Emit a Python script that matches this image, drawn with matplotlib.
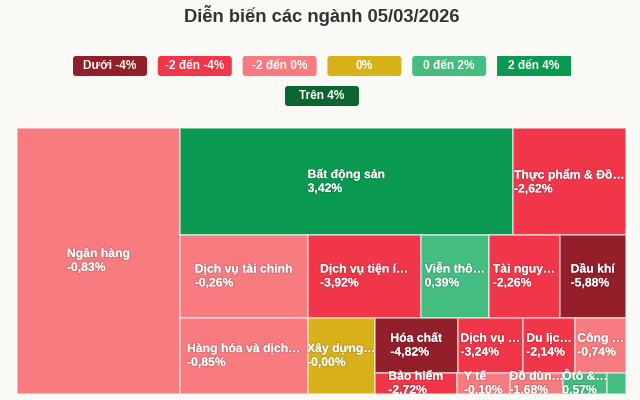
import matplotlib
matplotlib.use("Agg")
import matplotlib.pyplot as plt
from matplotlib.patches import Rectangle, FancyBboxPatch
import matplotlib.patheffects as pe

plt.rcParams['font.family'] = ['Liberation Sans', 'DejaVu Sans']

# --- du lieu ---
nganh = ["Ngân hàng", "Bất động sản", "Thực phẩm & Đồ…", "Dịch vụ tài chính",
         "Hàng hóa và dịch…", "Dịch vụ tiện í…", "Viễn thô…", "Tài nguy…",
         "Dầu khí", "Xây dựng…", "Hóa chất", "Dịch vụ …", "Du lịc…",
         "Công …", "Bảo hiểm", "Y tế", "Đồ dùn…", "Ôtô &…", ""]
thay_doi = [-0.83, 3.42, -2.62, -0.26, -0.85, -3.92, 0.39, -2.26, -5.88, -0.00,
            -4.82, -3.24, -2.14, -0.74, -2.72, -0.10, -1.68, 0.57, 0.50]
von_hoa = [434, 356, 121, 106, 97, 94, 56, 59, 55, 51,
           46, 36, 29, 28, 17, 11, 11, 9, 4]

nhom_mau = ["Dưới -4%", "-2 đến -4%", "-2 đến 0%", "0%", "0 đến 2%", "2 đến 4%", "Trên 4%"]
mau = ["#931f2a", "#f23649", "#f77b7f", "#d8b11a", "#44bd80", "#0a9950", "#0c6632"]

# cach chia o (h = chia ngang, v = chia doc)
cay = ('h', [0, ('v', [('h', [1, 2]),
                       ('h', [('v', [3, 4]),
                              ('v', [('h', [5, 6, 7, 8]),
                                     ('h', [9, ('v', [('h', [10, 11, 12, 13]),
                                                      ('h', [14, 15, 16, 17, 18])])])])])])])


def tong(node):
    if isinstance(node, int):
        return von_hoa[node]
    return sum(tong(c) for c in node[1])


def chia(node, x, y, w, h, out):
    if isinstance(node, int):
        out[node] = (x, y, w, h)
        return
    huong, con = node
    t = tong(node)
    for c in con:
        f = tong(c) / t
        if huong == 'h':
            chia(c, x, y, w * f, h, out)
            x += w * f
        else:
            chia(c, x, y, w, h * f, out)
            y += h * f


def lay_mau(v):
    v = round(v, 2)
    if v < -4: return mau[0]
    if v < -2: return mau[1]
    if v < 0: return mau[2]
    if v == 0: return mau[3]
    if v <= 2: return mau[4]
    if v <= 4: return mau[5]
    return mau[6]


W, H = 609, 266
nen = "#fbfaf7"
fig = plt.figure(figsize=(6.4, 4), dpi=100)
fig.patch.set_facecolor(nen)

# lop phu toan hinh, don vi = pixel
bg = fig.add_axes([0, 0, 1, 1])
bg.set_xlim(0, 640)
bg.set_ylim(400, 0)
bg.axis('off')

bg.text(322, 16, "Diễn biến các ngành 05/03/2026", ha='center', va='center',
        fontsize=13.2, fontweight='bold', color='#333333')

# legend
bw, bh, buoc = 74, 20, 84.8
for i, lbl in enumerate(nhom_mau):
    hang = i // 6
    so = 6 if hang == 0 else len(nhom_mau) - 6
    x0 = 322 - (so * buoc - (buoc - bw)) / 2 + (i % 6) * buoc
    y0 = 56 + hang * 30
    kieu = "square,pad=0" if lbl == "2 đến 4%" else "round,pad=0,rounding_size=3"
    bg.add_patch(FancyBboxPatch((x0, y0), bw, bh, boxstyle=kieu,
                                facecolor=mau[i], edgecolor='none'))
    bg.text(x0 + bw / 2, y0 + bh / 2, lbl, ha='center', va='center',
            color='white', fontsize=8.6, fontweight='bold')

ax = fig.add_axes([17 / 640, 6 / 400, W / 640, H / 400])
ax.set_xlim(0, W)
ax.set_ylim(H, 0)
ax.axis('off')

o = {}
chia(cay, 0, 0, W, H, o)
bong = [pe.withStroke(linewidth=1.5, foreground=(0, 0, 0, 0.12))]
for i, (x, y, w, h) in o.items():
    ax.add_patch(Rectangle((x, y), w, h, facecolor=lay_mau(thay_doi[i]),
                           edgecolor=(1, 1, 1, 0.55), linewidth=1.2))
    if nganh[i]:
        pct = f"{thay_doi[i]:.2f}%".replace('.', ',')
        ax.text(x + w / 2, y + h / 2, nganh[i] + "\n" + pct, ha='center', va='center',
                multialignment='left', color='white', fontsize=8.8, fontweight='bold',
                linespacing=1.2, clip_on=True, path_effects=bong)

fig.savefig("out.png", dpi=100, facecolor=nen)
